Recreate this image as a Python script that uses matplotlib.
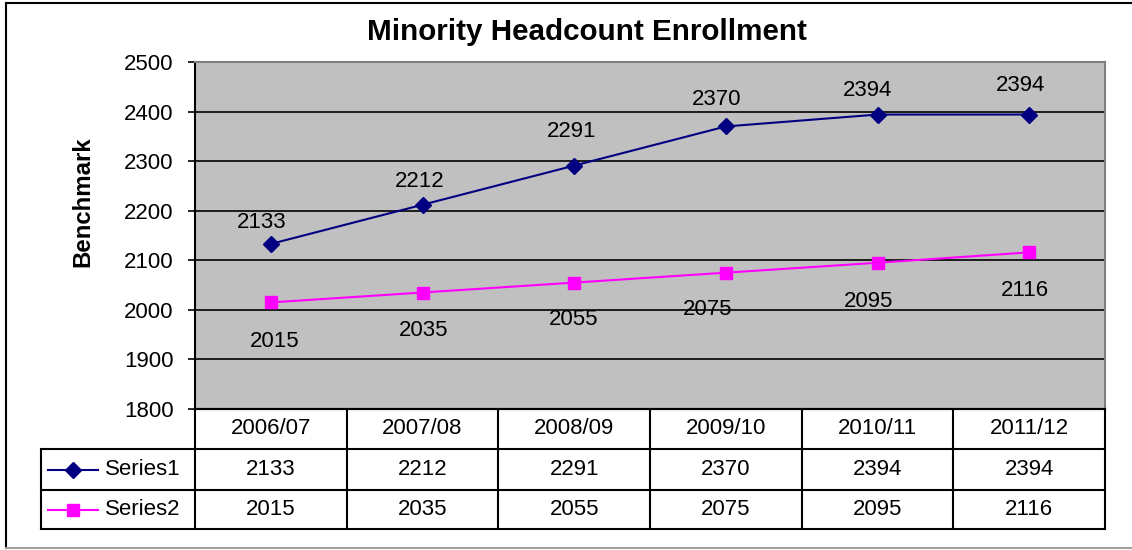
import matplotlib
matplotlib.use("Agg")
import matplotlib.pyplot as plt
from matplotlib.lines import Line2D

plt.rcParams['font.family'] = ['Liberation Sans', 'DejaVu Sans']

# data
years = ['2006/07', '2007/08', '2008/09', '2009/10', '2010/11', '2011/12']
series1 = [2133, 2212, 2291, 2370, 2394, 2394]
series2 = [2015, 2035, 2055, 2075, 2095, 2116]
names = ['Series1', 'Series2']

W, H = 1132, 550
PT = 0.72  # points per pixel at dpi 100
FS = 16

# label offsets (pixels), hand-placed in the original
s1_off = [(-9, 21), (-3, 23), (-3, 34), (-9, 27), (-10, 24), (-9, 29)]
s2_off = [(4, -39), (1, -38), (-1, -37), (-18, -37), (-9, -39), (-4, -38)]

fig = plt.figure(figsize=(W / 100, H / 100), dpi=100)

def fx(px):
    return px / W

def fy(py):
    return 1 - py / H

# outer frame
fig.add_artist(Line2D([fx(6), fx(6)], [fy(3), fy(548)], color='black', lw=1.5))
fig.add_artist(Line2D([fx(6), 1], [fy(3), fy(3)], color='black', lw=1.5))
fig.add_artist(Line2D([fx(6), 1], [fy(548), fy(548)], color='#a0a0a0', lw=1.5))

# plot area
L, R, T, B = 195, 1105, 62, 409
ax = fig.add_axes([fx(L), fy(B), fx(R - L), (B - T) / H])
ax.set_facecolor('#c0c0c0')
x = list(range(len(years)))
ax.plot(x, series1, color='#000080', lw=1.5, marker='D', ms=8.5, zorder=3)
ax.plot(x, series2, color='#ff00ff', lw=1.5, marker='s', ms=8.5, zorder=3)
for i, v in enumerate(series1):
    ax.annotate(str(v), (i, v), xytext=(s1_off[i][0] * PT, s1_off[i][1] * PT),
                textcoords='offset points', ha='center', va='center', fontsize=FS)
for i, v in enumerate(series2):
    ax.annotate(str(v), (i, v), xytext=(s2_off[i][0] * PT, s2_off[i][1] * PT),
                textcoords='offset points', ha='center', va='center', fontsize=FS)
ax.set_xlim(-0.5, len(years) - 0.5)
ax.set_ylim(1800, 2500)
ax.set_yticks(range(1800, 2501, 100))
ax.set_xticks([])
ax.yaxis.grid(True, color='black', lw=1.2)
ax.set_axisbelow(True)
ax.tick_params(axis='y', length=5, width=1.2, pad=10.5, labelsize=FS)
ax.spines['left'].set_linewidth(1.5)
ax.spines['bottom'].set_linewidth(1.5)
ax.spines['top'].set_color('#808080')
ax.spines['right'].set_color('#808080')
ax.spines['top'].set_linewidth(1.5)
ax.spines['right'].set_linewidth(1.5)

fig.text(fx(587), fy(32), 'Minority Headcount Enrollment', ha='center', va='center',
         fontsize=21.3, fontweight='bold')
fig.text(fx(83), fy(202), 'Benchmark', ha='center', va='center', rotation=90,
         fontsize=17.3, fontweight='bold')

# data table
col_w = (R - L) / len(years)
TL, TB = 41, 529
tax = fig.add_axes([fx(TL), fy(TB), fx(R - TL), (TB - B) / H])
tax.set_xlim(TL, R)
tax.set_ylim(TB - B, 0)
tax.axis('off')
rows = [0, 40, 81, 120]
kw = dict(color='black', lw=1.5, clip_on=False, solid_capstyle='projecting')
# header row
tax.plot([L, R], [rows[0], rows[0]], **kw)
for k in range(len(years) + 1):
    tax.plot([L + k * col_w] * 2, [rows[0], rows[3]], **kw)
for r in rows[1:]:
    tax.plot([TL, R], [r, r], **kw)
tax.plot([TL, TL], [rows[1], rows[3]], **kw)
for k, yr in enumerate(years):
    cx = L + (k + 0.5) * col_w
    tax.text(cx, (rows[0] + rows[1]) / 2, yr, ha='center', va='center', fontsize=FS)
    tax.text(cx, (rows[1] + rows[2]) / 2, str(series1[k]), ha='center', va='center', fontsize=FS)
    tax.text(cx, (rows[2] + rows[3]) / 2, str(series2[k]), ha='center', va='center', fontsize=FS)
# legend keys
for j, (nm, col, mk) in enumerate(zip(names, ['#000080', '#ff00ff'], ['D', 's'])):
    cy = (rows[j + 1] + rows[j + 2]) / 2
    tax.plot([48, 98], [cy, cy], color=col, lw=1.5, clip_on=False)
    tax.plot([73], [cy], color=col, marker=mk, ms=8.5, clip_on=False)
    tax.text(105, cy, nm, ha='left', va='center', fontsize=FS)

fig.savefig('out.png', dpi=100)
